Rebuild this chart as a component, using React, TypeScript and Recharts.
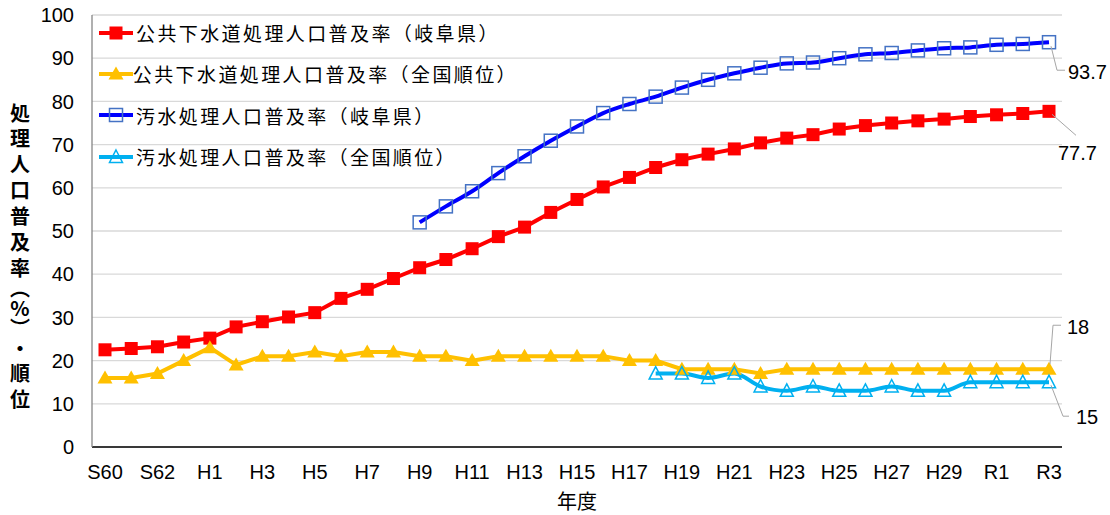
import React from 'react';
import { LineChart, Line, XAxis, YAxis, CartesianGrid, Legend, LabelList } from 'recharts';

// 年度 (fiscal years)
const years = [
  'S60', 'S61', 'S62', 'S63',
  'H1', 'H2', 'H3', 'H4', 'H5', 'H6', 'H7', 'H8', 'H9', 'H10',
  'H11', 'H12', 'H13', 'H14', 'H15', 'H16', 'H17', 'H18', 'H19', 'H20',
  'H21', 'H22', 'H23', 'H24', 'H25', 'H26', 'H27', 'H28', 'H29', 'H30',
  'R1', 'R2', 'R3',
];

// 公共下水道処理人口普及率（岐阜県） %
const sewerGifu = [
  22.5, 22.8, 23.2, 24.3,
  25.2, 27.8, 29.0, 30.1, 31.1, 34.4, 36.5, 39.0, 41.5, 43.4,
  45.9, 48.7, 50.9, 54.3, 57.3, 60.2, 62.4, 64.7, 66.5, 67.8,
  69.0, 70.4, 71.5, 72.3, 73.6, 74.4, 75.0, 75.5, 75.9, 76.5,
  76.9, 77.2, 77.7,
];

// 公共下水道処理人口普及率（全国順位）
const sewerRank = [
  16, 16, 17, 20,
  23, 19, 21, 21, 22, 21, 22, 22, 21, 21,
  20, 21, 21, 21, 21, 21, 20, 20, 18, 18,
  18, 17, 18, 18, 18, 18, 18, 18, 18, 18,
  18, 18, 18,
];

// 汚水処理人口普及率（岐阜県） % — reported from H9
const wasteGifu = [
  null, null, null, null,
  null, null, null, null, null, null, null, null, 52.0, 55.7,
  59.2, 63.4, 67.3, 70.9, 74.2, 77.3, 79.4, 81.1, 83.2, 85.0,
  86.5, 87.8, 88.8, 89.0, 90.0, 90.9, 91.2, 91.8, 92.3, 92.5,
  93.1, 93.3, 93.7,
];

// 汚水処理人口普及率（全国順位） — reported from H18
const wasteRank = [
  null, null, null, null,
  null, null, null, null, null, null, null, null, null, null,
  null, null, null, null, null, null, null, 17, 17, 16,
  17, 14, 13, 14, 13, 13, 14, 13, 13, 15,
  15, 15, 15,
];

const yTicks = [0, 10, 20, 30, 40, 50, 60, 70, 80, 90, 100];

const data = years.map((year, i) => ({
  year,
  sewerGifu: sewerGifu[i],
  sewerRank: sewerRank[i],
  wasteGifu: wasteGifu[i],
  wasteRank: wasteRank[i],
}));

const LATIN = '"Liberation Sans", Arial, "Noto Sans CJK JP", sans-serif';
const CJK = '"Noto Sans CJK JP", "Noto Sans CJK SC", sans-serif';

type MarkerKind = 'squareFilled' | 'triangleFilled' | 'squareHollow' | 'triangleHollow';

const series = [
  { key: 'sewerGifu', name: '公共下水道処理人口普及率（岐阜県）', line: '#FF0000', mark: '#FF0000', kind: 'squareFilled' as MarkerKind, curve: 'linear' },
  { key: 'sewerRank', name: '公共下水道処理人口普及率（全国順位）', line: '#FFC000', mark: '#FFC000', kind: 'triangleFilled' as MarkerKind, curve: 'linear' },
  { key: 'wasteGifu', name: '汚水処理人口普及率（岐阜県）', line: '#0000FF', mark: '#4472C4', kind: 'squareHollow' as MarkerKind, curve: 'monotone' },
  { key: 'wasteRank', name: '汚水処理人口普及率（全国順位）', line: '#00B0F0', mark: '#00B0F0', kind: 'triangleHollow' as MarkerKind, curve: 'monotone' },
];

function Marker({ kind, color, cx, cy }: { kind: MarkerKind; color: string; cx: number; cy: number }) {
  switch (kind) {
    case 'squareFilled':
      return <rect x={cx - 6.5} y={cy - 6.5} width={13} height={13} fill={color} />;
    case 'squareHollow':
      return <rect x={cx - 6.5} y={cy - 6.5} width={13} height={13} fill="none" stroke={color} strokeWidth={1.5} />;
    case 'triangleFilled':
      return <path d={`M${cx},${cy - 7.5} L${cx + 7.5},${cy + 5.5} L${cx - 7.5},${cy + 5.5} Z`} fill={color} />;
    case 'triangleHollow':
      return (
        <path
          d={`M${cx},${cy - 7} L${cx + 6.5},${cy + 5.5} L${cx - 6.5},${cy + 5.5} Z`}
          fill="none"
          stroke={color}
          strokeWidth={1.5}
        />
      );
    default:
      return null;
  }
}

const makeDot = (kind: MarkerKind, color: string) => (props: any) => {
  const { cx, cy, index } = props;
  if (cx == null || cy == null || Number.isNaN(cx) || Number.isNaN(cy)) {
    return <g key={`dot-${index}`} />;
  }
  return (
    <g key={`dot-${index}`}>
      <Marker kind={kind} color={color} cx={cx} cy={cy} />
    </g>
  );
};

// Leader lines and text for the final-year values
const endLabelLayout: Record<string, { path: [number, number][]; tx: number; ty: number }> = {
  wasteGifu: { path: [[2, 4], [8, 28], [16, 28]], tx: 19, ty: 30 },
  sewerGifu: { path: [[3, 3], [27, 24]], tx: 9, ty: 42 },
  sewerRank: { path: [[1, -5], [4, -44], [12, -44]], tx: 18, ty: -42 },
  wasteRank: { path: [[2, 3], [14, 34], [20, 34]], tx: 27, ty: 35 },
};

const makeEndLabel = (key: string) => (props: any) => {
  const { x, y, value, index } = props;
  if (index !== years.length - 1 || value == null) return null;
  const layout = endLabelLayout[key];
  const d = layout.path.map(([dx, dy], i) => `${i === 0 ? 'M' : 'L'}${x + dx},${y + dy}`).join(' ');
  return (
    <g>
      <path d={d} fill="none" stroke="#A6A6A6" strokeWidth={1} />
      <text
        x={x + layout.tx}
        y={y + layout.ty}
        dy="0.35em"
        textAnchor="start"
        fontFamily={LATIN}
        fontSize={20}
        fill="#000"
      >
        {value}
      </text>
    </g>
  );
};

function LegendBox() {
  return (
    <div style={{ display: 'flex', flexDirection: 'column' }}>
      {series.map((s) => (
        <div key={s.key} style={{ display: 'flex', alignItems: 'center', height: 41.3 }}>
          <svg width={38} height={20} style={{ display: 'block' }}>
            <line x1={1} y1={10} x2={35} y2={10} stroke={s.line} strokeWidth={4} />
            <Marker kind={s.kind} color={s.mark} cx={18} cy={10} />
          </svg>
          <span
            style={{
              fontFamily: CJK,
              fontSize: 19,
              letterSpacing: 2.4,
              color: '#000',
              whiteSpace: 'nowrap',
              lineHeight: 1,
            }}
          >
            {s.name}
          </span>
        </div>
      ))}
    </div>
  );
}

// Vertical Japanese axis title, set in vertical writing mode
function YTitle() {
  return (
    <text
      x={20}
      y={103}
      fontFamily={CJK}
      fontWeight={700}
      fontSize={20}
      fill="#000"
      style={{ writingMode: 'vertical-rl', textOrientation: 'upright' } as React.CSSProperties}
    >
      <tspan letterSpacing={5.8}>処理人口普及</tspan>
      <tspan letterSpacing={0}>率︵%︶</tspan>
      <tspan letterSpacing={5.8}>・順位</tspan>
    </text>
  );
}

export default function App() {
  return (
    <div style={{ position: 'absolute', left: 0, top: 0, width: 1110, height: 515, background: '#fff' }}>
      <LineChart width={1110} height={515} data={data} margin={{ top: 15, right: 48, bottom: 0, left: 0 }}>
        <CartesianGrid vertical={false} stroke="#D9D9D9" strokeWidth={1.3} />
        <XAxis
          dataKey="year"
          interval={1}
          height={68}
          padding={{ left: 13, right: 13 }}
          axisLine={{ stroke: '#000', strokeWidth: 1.3 }}
          tickLine={false}
          tickMargin={12}
          tick={{ fontFamily: LATIN, fontSize: 20, fill: '#000' }}
          label={{ value: '年度', position: 'insideBottom', offset: 6, style: { fontFamily: CJK, fontSize: 20, fill: '#000' } }}
        />
        <YAxis
          width={92}
          domain={[0, 100]}
          ticks={yTicks}
          interval={0}
          axisLine={{ stroke: '#868686', strokeWidth: 1.3 }}
          tickLine={false}
          tickMargin={12}
          tick={{ fontFamily: LATIN, fontSize: 20, fill: '#000' }}
          label={<YTitle />}
        />
        <Legend
          layout="vertical"
          align="center"
          verticalAlign="middle"
          wrapperStyle={{ left: 98, top: 12, width: 420 }}
          content={() => <LegendBox />}
        />
        {series.map((s) => (
          <Line
            key={s.key}
            dataKey={s.key}
            name={s.name}
            type={s.curve as any}
            stroke={s.line}
            strokeWidth={4}
            dot={makeDot(s.kind, s.mark)}
            activeDot={false}
            isAnimationActive={false}
            connectNulls={false}
          >
            <LabelList dataKey={s.key} content={makeEndLabel(s.key)} />
          </Line>
        ))}
      </LineChart>
    </div>
  );
}
